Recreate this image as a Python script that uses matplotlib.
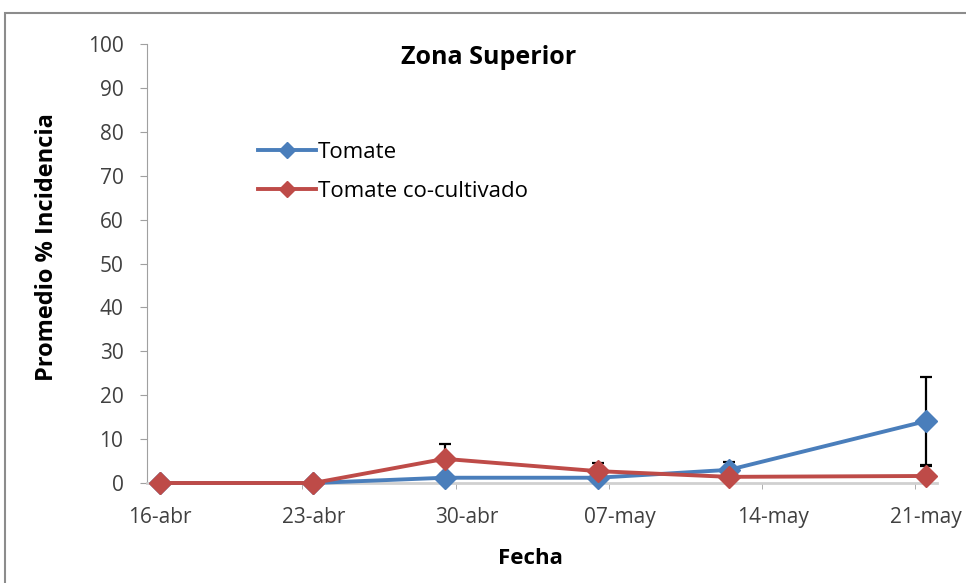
import numpy as np
import pandas as pd
import matplotlib
matplotlib.use("Agg")
import matplotlib.pyplot as plt
from matplotlib.patches import Rectangle

# --- data ---
fechas = pd.to_datetime(["2013-04-16", "2013-04-23", "2013-04-29",
                         "2013-05-06", "2013-05-12", "2013-05-21"])
tomate = [0.0, 0.0, 1.2, 1.2, 3.0, 14.1]
tomate_err = [0.0, 0.0, 0.0, 0.0, 1.8, 10.0]
cocultivo = [0.0, 0.0, 5.5, 2.7, 1.4, 1.6]
cocultivo_err = [0.0, 0.0, 3.4, 1.9, 0.0, 2.3]

tick_dates = pd.to_datetime(["2013-04-16", "2013-04-23", "2013-04-30",
                             "2013-05-07", "2013-05-14", "2013-05-21"])
tick_labels = ["16-abr", "23-abr", "30-abr", "07-may", "14-may", "21-may"]
y_ticks = list(range(0, 101, 10))

plt.rcParams['font.family'] = ['Open Sans', 'DejaVu Sans']

t0 = fechas[0]
x = np.array([(d - t0).days for d in fechas], dtype=float)
xt = np.array([(d - t0).days for d in tick_dates], dtype=float)

BLUE = "#4a7ebb"
RED = "#be4b48"

fig = plt.figure(figsize=(9.66, 5.83), dpi=100)
# outer chart frame (clipped at right/bottom like the reference)
fig.patches.append(Rectangle((5 / 966, -0.1), 1.2, (583 - 13) / 583 + 0.1,
                             transform=fig.transFigure, fill=False,
                             edgecolor="#8c8c8c", linewidth=1.5))

ax = fig.add_axes([147 / 966, 100 / 583, (937 - 147) / 966, (483 - 44) / 583])

ax.errorbar(x, tomate, yerr=tomate_err, fmt="none", ecolor="black",
            elinewidth=1.6, capsize=4.5, capthick=1.6, zorder=2)
ax.errorbar(x, cocultivo, yerr=cocultivo_err, fmt="none", ecolor="black",
            elinewidth=1.6, capsize=4.5, capthick=1.6, zorder=2)
ax.plot(x, tomate, color=BLUE, lw=2.8, marker="D", ms=11.5, mec=BLUE,
        label="Tomate", zorder=3, clip_on=False)
ax.plot(x, cocultivo, color=RED, lw=2.8, marker="D", ms=11.5, mec=RED,
        label="Tomate co-cultivado", zorder=4, clip_on=False)

ax.set_xlim(-0.6, 35.5)
ax.set_ylim(0, 100)
ax.set_yticks(y_ticks)
ax.set_xticks(xt)
ax.set_xticklabels(tick_labels)
ax.set_xticks(xt[1:] - 0.5, minor=True)
ax.tick_params(axis="x", which="major", length=0, pad=17, labelsize=15,
               labelcolor="#404040")
ax.tick_params(axis="x", which="minor", length=4, color="#a0a0a0", direction="out")
ax.tick_params(axis="y", length=5, color="#a0a0a0", labelsize=15,
               labelcolor="#404040", pad=12)

for s in ("top", "right"):
    ax.spines[s].set_visible(False)
ax.spines["left"].set_color("#a0a0a0")
ax.spines["bottom"].set_color("#d0d0d0")
ax.spines["bottom"].set_linewidth(2)

ax.text(489 / 966, 1 - 57 / 583, "Zona Superior", transform=fig.transFigure,
        ha="center", va="center", fontsize=18, fontweight="bold")
fig.text(530 / 966, 1 - 558 / 583, "Fecha", ha="center", va="center",
         fontsize=16, fontweight="bold")
fig.text(47 / 966, 1 - 247 / 583, "Promedio % Incidencia", ha="center",
         va="center", rotation=90, fontsize=17, fontweight="bold")

leg = ax.legend(loc="center left", bbox_to_anchor=(238 / 966, 1 - 172 / 583),
                bbox_transform=fig.transFigure, frameon=False,
                fontsize=16, handlelength=2.6, handletextpad=0.1,
                labelspacing=0.8, markerscale=0.75)

fig.savefig("out.png", dpi=100)
